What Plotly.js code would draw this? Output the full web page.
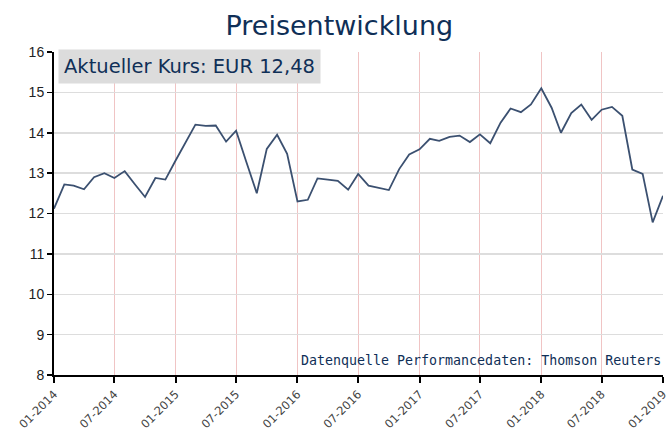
<!DOCTYPE html>
<html>
<head>
<meta charset="utf-8">
<script src="https://cdn.plot.ly/plotly-3.0.1.min.js"></script>
<style>html,body{margin:0;padding:0;background:#fff;}#chart{width:672px;height:433px;}</style>
</head>
<body>
<div id="chart"></div>
<script>
const months = [
  "2014-01-01","2014-02-01","2014-03-01","2014-04-01","2014-05-01","2014-06-01","2014-07-01","2014-08-01","2014-09-01","2014-10-01","2014-11-01","2014-12-01",
  "2015-01-01","2015-02-01","2015-03-01","2015-04-01","2015-05-01","2015-06-01","2015-07-01","2015-08-01","2015-09-01","2015-10-01","2015-11-01","2015-12-01",
  "2016-01-01","2016-02-01","2016-03-01","2016-04-01","2016-05-01","2016-06-01","2016-07-01","2016-08-01","2016-09-01","2016-10-01","2016-11-01","2016-12-01",
  "2017-01-01","2017-02-01","2017-03-01","2017-04-01","2017-05-01","2017-06-01","2017-07-01","2017-08-01","2017-09-01","2017-10-01","2017-11-01","2017-12-01",
  "2018-01-01","2018-02-01","2018-03-01","2018-04-01","2018-05-01","2018-06-01","2018-07-01","2018-08-01","2018-09-01","2018-10-01","2018-11-01","2018-12-01",
  "2019-01-01"
];
const prices = [
  12.12, 12.72, 12.69, 12.60, 12.90, 13.00, 12.88, 13.05, 12.72, 12.41, 12.88, 12.84,
  13.32, 13.77, 14.20, 14.17, 14.18, 13.78, 14.05, 13.27, 12.50, 13.60, 13.95, 13.48,
  12.30, 12.34, 12.87, 12.84, 12.81, 12.59, 12.98, 12.69, 12.64, 12.58, 13.10, 13.46,
  13.59, 13.85, 13.80, 13.90, 13.93, 13.77, 13.96, 13.74, 14.25, 14.60, 14.51, 14.70,
  15.10, 14.62, 14.00, 14.49, 14.70, 14.32, 14.57, 14.64, 14.42, 13.09, 12.98, 11.78,
  12.44
];
const tickDates = ["2014-01-01","2014-07-01","2015-01-01","2015-07-01","2016-01-01","2016-07-01","2017-01-01","2017-07-01","2018-01-01","2018-07-01","2019-01-01"];
const tickLabels = ["01-2014","07-2014","01-2015","07-2015","01-2016","07-2016","01-2017","07-2017","01-2018","07-2018","01-2019"];
const chartTitle = "Preisentwicklung";
const currentLabel = "Aktueller Kurs: EUR 12,48";
const sourceLabel = "Datenquelle Performancedaten: Thomson Reuters";

const navy = "#0f2f57";
const trace = {
  x: months, y: prices, type: "scatter", mode: "lines",
  line: {color: "#3b5070", width: 1.8},
  hoverinfo: "skip"
};
const layout = {
  width: 672, height: 433,
  margin: {l: 54, r: 9, t: 52, b: 58},
  paper_bgcolor: "#fff", plot_bgcolor: "#fff",
  showlegend: false,
  title: {text: chartTitle, x: 0.505, xanchor: "center", y: 0.962, yanchor: "top",
          font: {family: "DejaVu Sans", size: 27, color: navy}},
  xaxis: {
    type: "date", range: ["2014-01-01", "2019-01-01"],
    tickvals: tickDates, ticktext: tickLabels, tickangle: -45,
    showgrid: true, gridcolor: "#f0c4c4", gridwidth: 1,
    showline: true, linecolor: "#000", linewidth: 2,
    ticks: "outside", ticklen: 6, tickwidth: 2, tickcolor: "#000",
    tickfont: {family: "DejaVu Sans", size: 11.5, color: "#444"},
    zeroline: false, fixedrange: true
  },
  yaxis: {
    range: [8, 16], dtick: 1, tick0: 8,
    showgrid: true, gridcolor: "#dddddd", gridwidth: 1.5,
    showline: true, linecolor: "#000", linewidth: 2,
    ticks: "outside", ticklen: 5, tickwidth: 1.5, tickcolor: "#000",
    tickfont: {family: "Liberation Sans", size: 14, color: "#222"},
    zeroline: false, fixedrange: true
  },
  annotations: [
    {text: currentLabel, xref: "paper", yref: "paper", x: 0.007, y: 1.008, xanchor: "left", yanchor: "top",
     showarrow: false, bgcolor: "#dcdcdc", borderpad: 5,
     font: {family: "DejaVu Sans", size: 19.5, color: navy}},
    {text: sourceLabel, xref: "paper", yref: "paper", x: 1.0, y: 0.015, xanchor: "right", yanchor: "bottom",
     showarrow: false, font: {family: "DejaVu Sans Mono", size: 13.3, color: navy}}
  ]
};
Plotly.newPlot("chart", [trace], layout, {displayModeBar: false, staticPlot: true});
</script>
</body>
</html>
